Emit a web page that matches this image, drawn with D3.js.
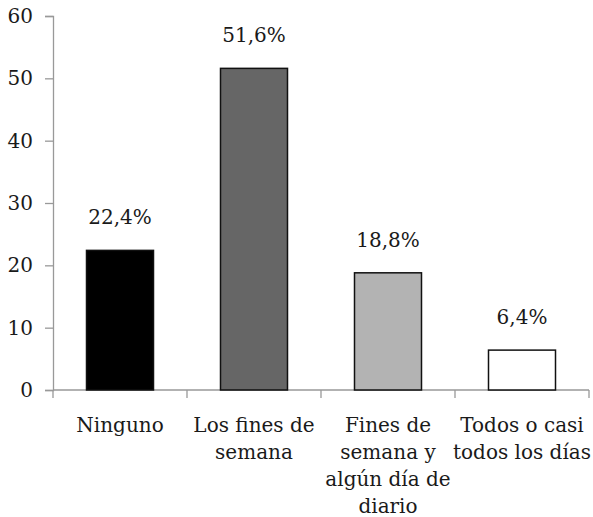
<!DOCTYPE html>
<html><head><meta charset="utf-8">
<script src="https://cdn.jsdelivr.net/npm/d3@7"></script>
<style>body{margin:0;background:#fff}svg{display:block}</style>
</head><body><svg id="c" width="593" height="517"></svg>
<script>
const categories = [["Ninguno"],["Los fines de","semana"],["Fines de","semana y","algún día de","diario"],["Todos o casi","todos los días"]];
const values = [22.4, 51.6, 18.8, 6.4];
const valueLabels = ["22,4%","51,6%","18,8%","6,4%"];
const yTicks = [0,10,20,30,40,50,60];
const colors = ["#000000","#666666","#b3b3b3","#ffffff"];

(function(){
const FONT = "'DejaVu Serif', serif";
const svg = d3.select("#c");
const mLeft = 53, mRight = 589, mTop = 16, mBottom = 390;
const x = d3.scaleBand().domain(d3.range(values.length)).range([mLeft,mRight]).paddingInner(0.5).paddingOuter(0.25);
const y = d3.scaleLinear().domain([0,60]).range([mBottom,mTop]);

const ya = svg.append("g").attr("transform",`translate(${mLeft},0)`).call(d3.axisLeft(y).tickValues(yTicks).tickSize(8).tickPadding(12));
ya.attr("font-family", FONT).attr("font-size", 20);
ya.select(".domain").attr("stroke","#999").attr("stroke-width",1.3);
ya.selectAll(".tick line").attr("stroke","#999").attr("stroke-width",1.3);
ya.selectAll(".tick text").attr("fill","#1a1a1a");

const g = svg.append("g");
g.append("line").attr("x1",mLeft).attr("x2",mRight).attr("y1",mBottom).attr("y2",mBottom).attr("stroke","#999").attr("stroke-width",1.3);
const seps = d3.range(values.length+1).map(i => mLeft + i*x.step());
g.selectAll(".sep").data(seps).join("line").attr("x1",d=>d).attr("x2",d=>d).attr("y1",mBottom).attr("y2",mBottom+8).attr("stroke","#999").attr("stroke-width",1.3);

svg.selectAll(".bar").data(values).join("rect")
  .attr("x",(d,i)=>x(i)).attr("width",x.bandwidth())
  .attr("y",d=>y(d)).attr("height",d=>mBottom-y(d))
  .attr("fill",(d,i)=>colors[i]).attr("stroke","#111").attr("stroke-width",1.5);

svg.selectAll(".vl").data(values).join("text")
  .attr("x",(d,i)=>x(i)+x.bandwidth()/2).attr("y",d=>y(d)-26)
  .attr("text-anchor","middle").attr("font-family",FONT).attr("font-size",20).attr("fill","#1a1a1a")
  .text((d,i)=>valueLabels[i]);

categories.forEach((lines,i)=>{
  const t = svg.append("text").attr("text-anchor","middle").attr("font-family",FONT).attr("font-size",20).attr("fill","#1a1a1a");
  lines.forEach((l,j)=>{
    t.append("tspan").attr("x",x(i)+x.bandwidth()/2).attr("y",432+j*27).text(l);
  });
});
})();
</script></body></html>
